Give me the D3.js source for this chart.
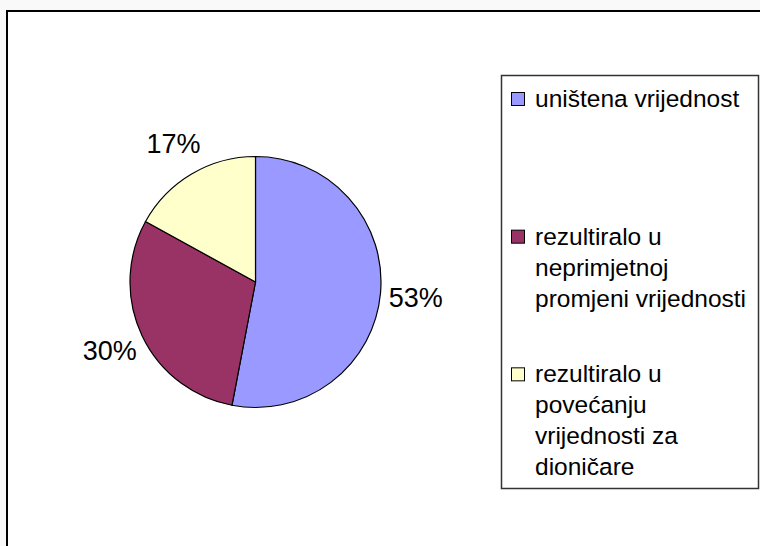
<!DOCTYPE html>
<html>
<head>
<meta charset="utf-8">
<script src="https://cdn.jsdelivr.net/npm/d3@7"></script>
<style>
  html, body { margin: 0; padding: 0; background: #f9f9f9; }
  svg { display: block; }
  text { font-family: "Liberation Sans", Arial, sans-serif; fill: #000; }
</style>
</head>
<body>
<div id="chart"></div>
<script>
// data
const categories = ["uništena vrijednost",
                    "rezultiralo u neprimjetnoj promjeni vrijednosti",
                    "rezultiralo u povećanju vrijednosti za dioničare"];
const values = [53, 30, 17];
const colors = ["#9999ff", "#993366", "#ffffcc"];
// legend lines as they wrap in the original
const legendLines = [
    ["uništena vrijednost"],
    ["rezultiralo u", "neprimjetnoj", "promjeni vrijednosti"],
    ["rezultiralo u", "povećanju", "vrijednosti za", "dioničare"]
];

const width = 760, height = 546;

const svg = d3.select("#chart")
    .append("svg")
    .attr("width", width)
    .attr("height", height);

// chart area (runs off the right and bottom of the picture)
svg.append("rect")
    .attr("x", 7)
    .attr("y", 11)
    .attr("width", width + 20)
    .attr("height", height + 20)
    .style("fill", "#fff")
    .style("stroke", "#000")
    .style("stroke-width", 2);

// pie
const cx = 255.5, cy = 282, radius = 125.5;

const pie = d3.pie().sort(null).value(d => d.value);
const arcs = pie(categories.map((c, i) => ({name: c, value: values[i], color: colors[i]})));

const arc = d3.arc().innerRadius(0).outerRadius(radius);
const labelArc = d3.arc().innerRadius(161).outerRadius(161);

const g = svg.append("g")
    .attr("transform", "translate(" + cx + "," + cy + ")");

g.selectAll("path")
    .data(arcs)
    .enter()
    .append("path")
        .attr("d", arc)
        .style("fill", d => d.data.color)
        .style("stroke", "#000")
        .style("stroke-width", 1.2);

g.selectAll("text")
    .data(arcs)
    .enter()
    .append("text")
        .attr("transform", d => "translate(" + labelArc.centroid(d) + ")")
        .attr("text-anchor", "middle")
        .attr("dy", "0.36em")
        .style("font-size", "27px")
        .text(d => d.data.value + "%");

// legend
const legend = {x: 501.5, y: 75.5, w: 257, h: 413};

svg.append("rect")
    .attr("x", legend.x)
    .attr("y", legend.y)
    .attr("width", legend.w)
    .attr("height", legend.h)
    .style("fill", "#fff")
    .style("stroke", "#333")
    .style("stroke-width", 1.5);

const slot = d3.scaleBand()
    .domain(categories)
    .range([legend.y, legend.y + legend.h]);

const item = svg.selectAll(".legend-item")
    .data(categories)
    .enter()
    .append("g")
        .attr("class", "legend-item")
        .attr("transform", d => "translate(" + legend.x + "," + (slot(d) + 31.5) + ")");

item.append("rect")
    .attr("x", 10)
    .attr("y", -14.5)
    .attr("width", 13)
    .attr("height", 13)
    .style("fill", (d, i) => colors[i])
    .style("stroke", "#000")
    .style("stroke-width", 1);

item.append("text")
    .attr("x", 33.5)
    .style("font-size", "24.5px")
    .selectAll("tspan")
    .data((d, i) => legendLines[i])
    .enter()
    .append("tspan")
        .attr("x", 33.5)
        .attr("dy", (d, j) => j === 0 ? 0 : 31)
        .text(d => d);
</script>
</body>
</html>
